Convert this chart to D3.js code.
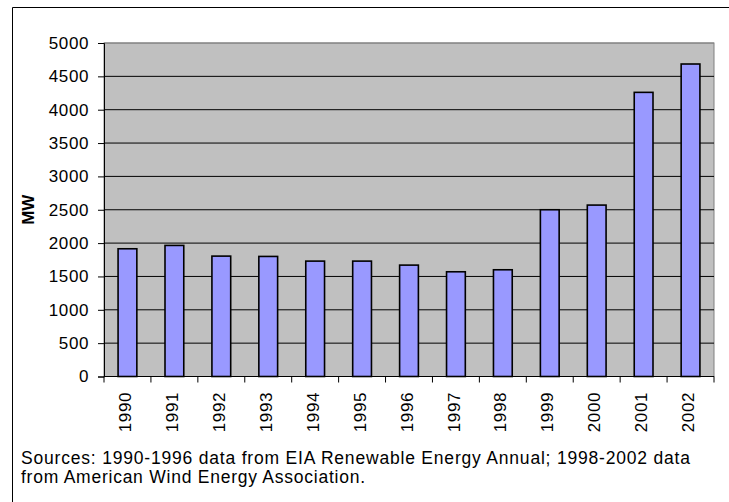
<!DOCTYPE html>
<html>
<head>
<meta charset="utf-8">
<script src="https://cdn.jsdelivr.net/npm/d3@7/dist/d3.min.js"></script>
<style>
  html, body { margin: 0; padding: 0; background: #fff; }
  svg { display: block; }
  text { font-family: "Liberation Sans", Arial, sans-serif; fill: #000; }
</style>
</head>
<body>
<svg id="chart" width="729" height="502"></svg>
<script>
const years = ["1990","1991","1992","1993","1994","1995","1996","1997","1998","1999","2000","2001","2002"];
const capacityMW = [1915, 1965, 1805, 1800, 1730, 1730, 1670, 1570, 1600, 2500, 2570, 4260, 4685];
const yTicks = [0, 500, 1000, 1500, 2000, 2500, 3000, 3500, 4000, 4500, 5000];
const yLabel = "MW";
const sourceLines = [
  "Sources: 1990-1996 data from EIA Renewable Energy Annual; 1998-2002 data",
  "from American Wind Energy Association."
];

const svg = d3.select("#chart");
const plot = { left: 104, right: 714, top: 43, bottom: 376.5 };

// outer frame (left and top edges)
svg.append("path")
  .attr("d", "M12.5,502 L12.5,7.5 L729,7.5")
  .attr("fill", "none").attr("stroke", "#000").attr("stroke-width", 1);

const x = d3.scaleBand().domain(years).range([plot.left, plot.right]).paddingInner(0).paddingOuter(0);
const y = d3.scaleLinear().domain([0, 5000]).range([plot.bottom, plot.top]);

// plot background
svg.append("rect")
  .attr("x", plot.left).attr("y", plot.top)
  .attr("width", plot.right - plot.left).attr("height", plot.bottom - plot.top)
  .attr("fill", "#C0C0C0").attr("stroke", "#808080").attr("stroke-width", 1);

// gridlines
svg.append("g").selectAll("line").data(yTicks.filter(d => d > 0)).join("line")
  .attr("x1", plot.left).attr("x2", plot.right)
  .attr("y1", d => y(d)).attr("y2", d => y(d))
  .attr("stroke", d => d === 5000 ? "#808080" : "#000").attr("stroke-width", 1);

// bars
const barW = x.bandwidth() / 2.5;
svg.append("g").selectAll("rect").data(years).join("rect")
  .attr("x", (d) => x(d) + (x.bandwidth() - barW) / 2)
  .attr("y", (d, i) => y(capacityMW[i]))
  .attr("width", barW)
  .attr("height", (d, i) => y(0) - y(capacityMW[i]))
  .attr("fill", "#9999FF").attr("stroke", "#000").attr("stroke-width", 1.6);

// y axis
const yAxis = d3.axisLeft(y).tickValues(yTicks).tickSize(6).tickPadding(9).tickFormat(d3.format("d"));
const gy = svg.append("g").attr("transform", `translate(${plot.left},0)`).call(yAxis);
gy.select(".domain").attr("stroke", "#000");
gy.selectAll(".tick line").attr("stroke", "#000");
gy.selectAll(".tick text")
  .style("font-family", '"Liberation Sans", Arial, sans-serif')
  .style("font-size", "17px").style("letter-spacing", "0.6px").attr("fill", "#000");

// x axis: ticks at category boundaries
const gx = svg.append("g").attr("transform", `translate(0,${plot.bottom})`);
gx.append("line").attr("x1", plot.left).attr("x2", plot.right).attr("y1", 0).attr("y2", 0).attr("stroke", "#000");
const boundaries = years.map(d => x(d)).concat([plot.right]);
gx.selectAll("line.tk").data(boundaries).join("line").attr("class", "tk")
  .attr("x1", d => d).attr("x2", d => d).attr("y1", 0).attr("y2", 6)
  .attr("stroke", "#000");
gx.selectAll("text").data(years).join("text")
  .attr("transform", d => `translate(${x(d) + x.bandwidth() / 2 - 2.5},${15.5}) rotate(-90)`)
  .attr("text-anchor", "end").attr("dy", "0.36em")
  .style("font-size", "17px").style("letter-spacing", "0.6px")
  .text(d => d);

// y label
svg.append("text")
  .attr("transform", `translate(28,${(plot.top + plot.bottom) / 2}) rotate(-90)`)
  .attr("text-anchor", "middle").attr("dy", "0.36em")
  .style("font-size", "17px").style("font-weight", "bold")
  .text(yLabel);

// sources note
svg.append("text").attr("x", 21).attr("y", 464)
  .style("font-size", "17.5px")
  .attr("textLength", 669).attr("lengthAdjust", "spacing")
  .text(sourceLines[0]);
svg.append("text").attr("x", 21).attr("y", 482.5)
  .style("font-size", "17.5px")
  .attr("textLength", 344).attr("lengthAdjust", "spacing")
  .text(sourceLines[1]);
</script>
</body>
</html>
